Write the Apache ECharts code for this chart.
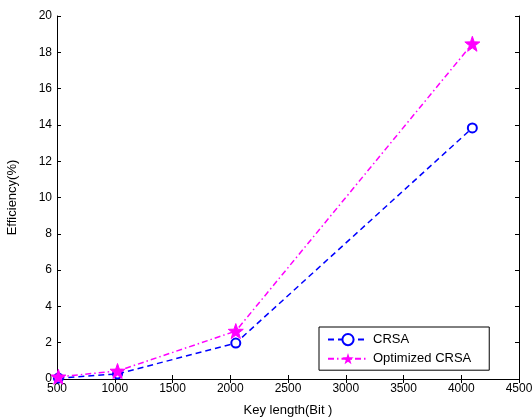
<!DOCTYPE html>
<html>
<head>
<meta charset="utf-8">
<script src="https://cdn.jsdelivr.net/npm/echarts@6/dist/echarts.min.js"></script>
<style>
  html, body { margin: 0; padding: 0; background: #fff; }
  #main { width: 532px; height: 417px; }
</style>
</head>
<body>
<div id="main"></div>
<script>
// key lengths (bit)
var keyLengths = [512, 1024, 2048, 4096]
var crsa = [0.05, 0.28, 1.98, 13.83]
var optimizedCrsa = [0.12, 0.44, 2.64, 18.47]

var xTicks = { min: 500, max: 4500, interval: 500 }
var yTicks = { min: 0, max: 20, interval: 2 }

function pairs(ys) {
    return keyLengths.map(function (x, i) { return [x, ys[i]] })
}

var font = 'Liberation Sans, Arial, sans-serif'
var tickStyle = { inside: true, length: 4, lineStyle: { color: '#000' } }
var lineAxis = { lineStyle: { color: '#000', width: 1 } }
var plain = function (v) { return String(v) }

var myChart = echarts.init(document.getElementById('main'))
myChart.setOption({
    animation: false,
    grid: { left: 57, right: 13, top: 16, bottom: 38, containLabel: false, outerBoundsMode: 'none' },
    legend: {
        left: 319, top: 327,
        orient: 'vertical',
        backgroundColor: '#fff',
        borderColor: '#000', borderWidth: 1, borderRadius: 0,
        padding: [6, 18, 5, 8],
        itemWidth: 40, itemHeight: 14, itemGap: 6,
        textStyle: { fontFamily: font, fontSize: 13, color: '#000' },
        data: ['CRSA', 'Optimized CRSA']
    },
    xAxis: [{
        type: 'value', min: xTicks.min, max: xTicks.max, interval: xTicks.interval,
        name: 'Key length(Bit )', nameLocation: 'middle', nameGap: 25,
        nameTextStyle: { fontFamily: font, fontSize: 13, color: '#000' },
        axisLine: lineAxis, axisTick: tickStyle, splitLine: { show: false },
        axisLabel: { fontFamily: font, fontSize: 12, color: '#000', margin: 4, formatter: plain }
    }, {
        type: 'value', position: 'top', min: xTicks.min, max: xTicks.max, interval: xTicks.interval,
        axisLine: lineAxis, axisTick: tickStyle, axisLabel: { show: false }, splitLine: { show: false }
    }],
    yAxis: [{
        type: 'value', min: yTicks.min, max: yTicks.max, interval: yTicks.interval,
        name: 'Efficiency(%)', nameLocation: 'middle', nameGap: 38, nameRotate: 90,
        nameTextStyle: { fontFamily: font, fontSize: 13, color: '#000' },
        axisLine: lineAxis, axisTick: tickStyle, splitLine: { show: false },
        axisLabel: { fontFamily: font, fontSize: 12, color: '#000', margin: 5, formatter: plain }
    }, {
        type: 'value', position: 'right', min: yTicks.min, max: yTicks.max, interval: yTicks.interval,
        axisLine: lineAxis, axisTick: tickStyle, axisLabel: { show: false }, splitLine: { show: false }
    }],
    series: [{
        name: 'CRSA',
        type: 'line',
        data: pairs(crsa),
        symbol: 'emptyCircle', symbolSize: 9,
        lineStyle: { color: '#0000ff', width: 1.5, type: [6, 4] },
        itemStyle: { color: '#0000ff', borderColor: '#0000ff', borderWidth: 2 },
        z: 3
    }, {
        name: 'Optimized CRSA',
        type: 'line',
        data: pairs(optimizedCrsa),
        symbol: 'path://M0,-10 L2.35,-3.24 L9.51,-3.09 L3.8,1.24 L5.88,8.09 L0,4 L-5.88,8.09 L-3.8,1.24 L-9.51,-3.09 L-2.35,-3.24 Z',
        symbolSize: 15,
        lineStyle: { color: '#ff00ff', width: 1.5, type: [6, 3, 1.5, 3] },
        itemStyle: { color: '#ff00ff', borderColor: '#ff00ff' },
        z: 4
    }]
})
</script>
</body>
</html>
